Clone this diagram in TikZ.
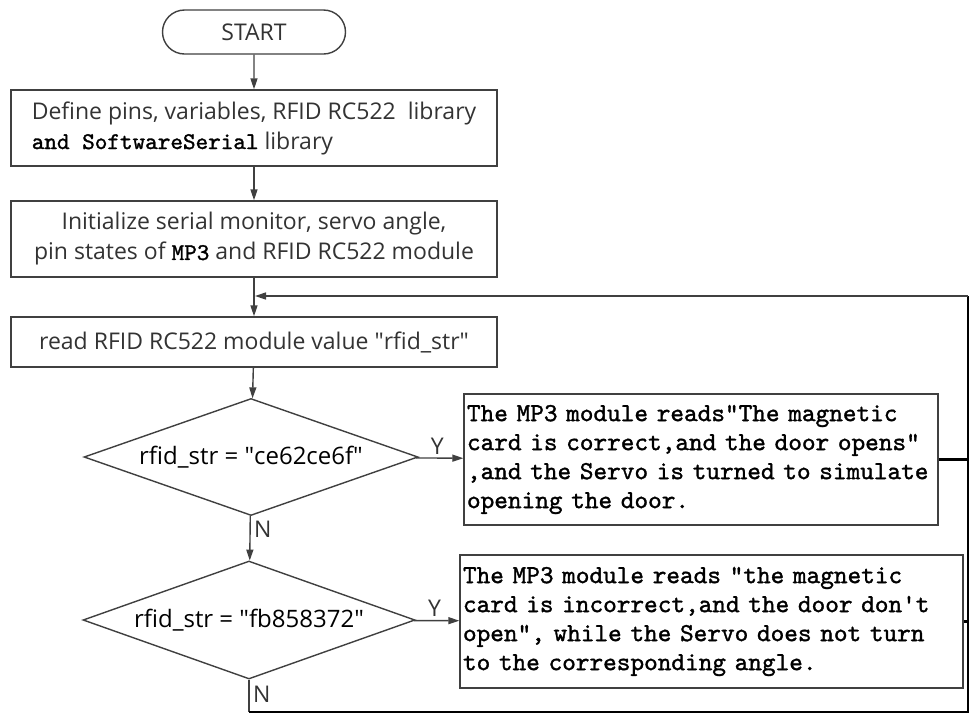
\documentclass[tikz,border=0pt]{standalone}
\usepackage{fontspec}
\usepackage{tikz}
\usetikzlibrary{shapes.geometric,shapes.misc,arrows.meta}
\setmainfont{Open Sans}
\newfontfamily\songti{lmmono10-regular.otf}[FakeBold=1.3]
\definecolor{linegray}{RGB}{64,64,64}
\definecolor{textgray}{RGB}{51,51,51}

\begin{document}
\begin{tikzpicture}[x=1pt,y=-1pt,line width=1.4pt,draw=linegray,
  >={Triangle[length=11pt,width=7pt]},
  font=\fontsize{23}{30}\selectfont\color{textgray}]
\newcommand{\mono}{\songti\fontsize{24}{30}\selectfont\color{black}}
\useasboundingbox (0,0) rectangle (972,716);
\begin{scope}[minimum size=0.1cm,inner sep=3pt]
\tikzstyle{every node}=[draw=linegray,fill=white]
\node[rounded rectangle,minimum width=189,minimum height=44] (Start) at (254,32) {START};
\node[rectangle,minimum width=486,minimum height=76,align=left] (Def) at (254,128)
  {Define pins, variables, RFID RC522\ \ library\\{\mono and SoftwareSerial} library};
\node[rectangle,minimum width=486,minimum height=76,align=center] (Init) at (254,239)
  {Initialize serial monitor, servo angle,\\pin states of {\mono MP3} and RFID RC522 module};
\node[rectangle,minimum width=486,minimum height=50] (Read) at (254,342)
  {read RFID RC522 module value \textquotedbl rfid\_str\textquotedbl};
\node[diamond,aspect=2.85,minimum width=334,minimum height=117,inner sep=0pt,
  font=\fontsize{24}{30}\selectfont] (D_1) at (251,457)
  {rfid\_str = \textquotedbl ce62ce6f\textquotedbl};
\node[diamond,aspect=2.81,minimum width=332,minimum height=118,inner sep=0pt,
  font=\fontsize{24}{30}\selectfont] (D_2) at (249,620)
  {rfid\_str = \textquotedbl fb858372\textquotedbl};
\node[rectangle,minimum width=474,minimum height=131,text width=468,align=left,
  font=\mono\fontsize{26}{29}\selectfont] (Y_1) at (701,459.5)
  {The MP3 module reads“The magnetic\\card is correct,and the door opens”\\,and the Servo is turned to simulate\\opening the door.};
\node[rectangle,minimum width=503,minimum height=133,text width=497,align=left,
  font=\mono\fontsize{26}{29}\selectfont] (Y_2) at (711.5,621.5)
  {The MP3 module reads \textquotedbl the magnetic\\card is incorrect,and the door don't\\open\textquotedbl, while the Servo does not turn\\to the corresponding angle.};
\end{scope}
\coordinate (Back) at (255,296);
\coordinate (Corner) at (968,296);
\coordinate (Low) at (968,712);
\draw [->] (Start) -- (Def);
\draw [->] (Def) -- (Init);
\draw [->] (Init) -- (Read);
\draw [->] (Read) -- (D_1);
\draw [->] (D_1) -- node[pos=.3,right] {N} (D_2);
\draw [->] (D_1) -- node[above,pos=.45] {Y} (Y_1);
\draw [->] (D_2) -- node[above,pos=.45] {Y} (Y_2);
\draw [line width=2.6pt,draw=black] (Y_1.east) -- (Y_1.east -| Low);
\draw [line width=2.6pt,draw=black] (Y_2.east) -- (Y_2.east -| Low);
\draw (D_2.south) -- node[pos=.45,right] {N} (D_2.south |- Low);
\draw [line width=2.6pt,draw=black] (D_2.south |- Low) -- (Low) -- (Corner);
\draw [->] (Corner) -- (Back);
\end{tikzpicture}
\end{document}
